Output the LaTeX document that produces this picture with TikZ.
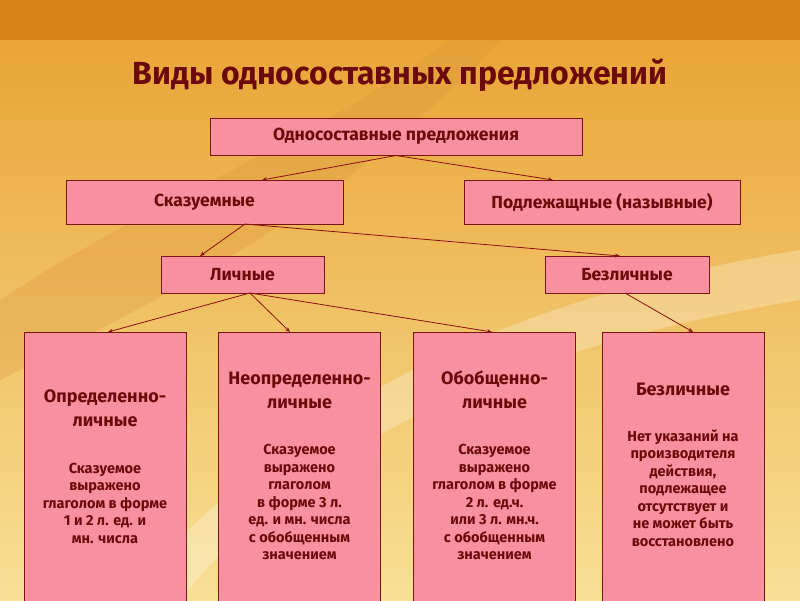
\documentclass[tikz,border=0pt]{standalone}
\usepackage{fontspec}
\setmainfont{Fira Sans}
\usetikzlibrary{arrows.meta}
\definecolor{boxpink}{HTML}{F8919F}
\definecolor{txtred}{HTML}{6A0A0A}
\definecolor{arrred}{HTML}{8A1010}
\definecolor{bgtop}{RGB}{232,160,48}
\definecolor{bgbot}{RGB}{248,224,150}
\definecolor{band}{RGB}{214,130,20}
\definecolor{leaf}{RGB}{220,150,60}
\definecolor{boxline}{HTML}{7A1515}
\begin{document}
\begin{tikzpicture}[x=1pt,y=-1pt,
  box/.style={draw=boxline,line width=1pt,fill=boxpink,text=txtred,font=\bfseries\fontsize{17.5}{20}\selectfont,inner sep=0pt},
  arr/.style={draw=arrred,line width=0.8pt,-{Stealth[length=5pt,width=4pt]}},
  txt/.style={text=txtred,font=\bfseries,align=center},
  head/.style={txt,font=\bfseries\fontsize{18}{24}\selectfont},
  body/.style={txt,font=\bfseries\fontsize{14.5}{17.5}\selectfont}]
\useasboundingbox (0,0) rectangle (800,600);
\shade[top color=bgtop,bottom color=bgbot] (0,0) rectangle (800,600);
\fill[band] (0,0) rectangle (800,40);
\fill[white,opacity=0.25] (120,600) .. controls (300,400) and (500,300) .. (800,250) -- (800,300) .. controls (500,350) and (300,450) .. (180,600) -- cycle;
\fill[leaf,opacity=0.3] (0,300) .. controls (150,200) and (300,150) .. (450,40) -- (500,40) .. controls (350,200) and (200,280) .. (0,380) -- cycle;
\node (title) [text=txtred,font=\bfseries\fontsize{32}{36}\selectfont] at (400,75) {Виды односоставных предложений};
\node (os) [box,minimum width=372pt,minimum height=37pt] at (396,136.5) {Односоставные предложения};
\node (sk) [box,minimum width=277pt,minimum height=44pt] at (204.5,202) {Сказуемные};
\node (pd) [box,minimum width=276pt,minimum height=44pt] at (602,202) {Подлежащные (назывные)};
\node (li) [box,minimum width=163pt,minimum height=37pt] at (242.5,274.5) {Личные};
\node (bz) [box,minimum width=164pt,minimum height=37pt] at (627,274.5) {Безличные};
\foreach \n/\x in {b1/105,b2/299.5,b3/494.5,b4/683}
  \node (\n) [box,minimum width=162pt,minimum height=275pt,anchor=north] at (\x,332) {};
\draw[arr] (os.south) -- (262,180);
\draw[arr] (os.south) -- (553,180);
\draw[arr] (245,224) -- (200,256);
\draw[arr] (245,224) -- (620,256);
\draw[arr] (250,293) -- (108,332);
\draw[arr] (250,293) -- (290,332);
\draw[arr] (250,293) -- (492,332);
\draw[arr] (625,293) -- (693,332);
\node[head] at (105,408) {Определенно-\\личные};
\node[body] at (105,503) {Сказуемое\\выражено\\глаголом в форме\\1 и 2 л. ед. и\\мн. числа};
\node[head] at (299.5,390) {Неопределенно-\\личные};
\node[body] at (299.5,502) {Сказуемое\\выражено\\глаголом\\в форме 3 л.\\ед. и мн. числа\\с обобщенным\\значением};
\node[head] at (494.5,390) {Обобщенно-\\личные};
\node[body] at (494.5,502) {Сказуемое\\выражено\\глаголом в форме\\2 л. ед.ч.\\или 3 л. мн.ч.\\с обобщенным\\значением};
\node[head] at (683,389) {Безличные};
\node[body] at (683,488) {Нет указаний на\\производителя\\действия,\\подлежащее\\отсутствует и\\не может быть\\восстановлено};
\end{tikzpicture}
\end{document}
